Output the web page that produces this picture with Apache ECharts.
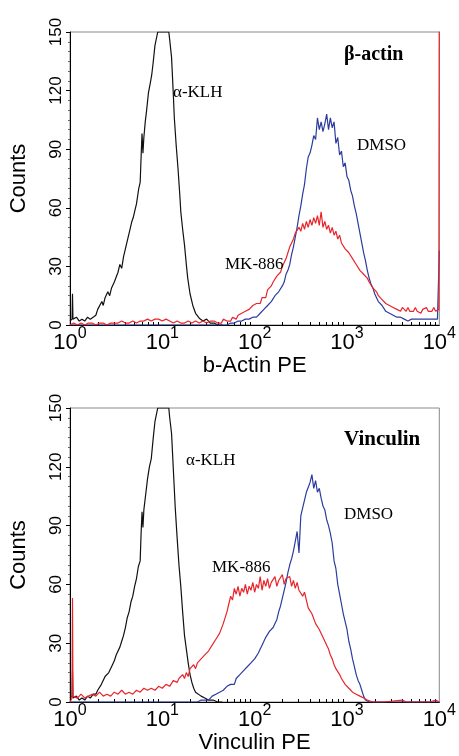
<!DOCTYPE html>
<html><head><meta charset="utf-8">
<script src="https://cdn.jsdelivr.net/npm/echarts@6/dist/echarts.min.js"></script>
<style>html,body{margin:0;padding:0;background:#fff}#c{width:459px;height:756px}</style>
</head><body><div id="c"></div>
<script>
// ---- axis ticks ----
const yTickValues = [0, 30, 60, 90, 120, 150];
const xTickExponents = [0, 1, 2, 3, 4];
const panelTitles = ['β-actin', 'Vinculin'];
const xAxisNames = ['b-Actin PE', 'Vinculin PE'];
const seriesNames = ['α-KLH', 'MK-886', 'DMSO'];

// ---- data: [log10 fluorescence, counts] ----
const actinKLH = [[0,2],[0.022,3],[0.027,16],[0.032,3],[0.05,2],[0.07,4],[0.10,2],[0.13,3],[0.16,2],[0.19,4],[0.22,3],[0.25,4],[0.28,5],[0.30,8],[0.32,7],[0.345,12],[0.36,10],[0.38,14],[0.41,17],[0.43,15],[0.45,19],[0.48,22],[0.50,21],[0.52,27],[0.54,31],[0.56,29],[0.58,35],[0.595,38],[0.61,41],[0.63,45],[0.65,49],[0.67,53],[0.685,55],[0.70,58],[0.72,62],[0.745,70],[0.76,73],[0.77,86],[0.78,98],[0.79,88],[0.80,96],[0.815,104],[0.83,110],[0.85,119],[0.87,124],[0.885,128],[0.90,134],[0.92,143],[0.95,150],[1.07,150],[1.08,146],[1.10,137],[1.12,117],[1.13,106],[1.15,92],[1.17,80],[1.19,66],[1.20,58],[1.22,49],[1.24,41],[1.26,31],[1.275,24],[1.30,16],[1.33,10],[1.36,6],[1.40,3.5],[1.44,2],[1.48,3],[1.52,1],[1.56,1],[1.60,0],[1.65,0]];
const actinMK = [[0,0],[0.04,1],[0.08,0],[0.12,1],[0.16,0],[0.20,1],[0.24,1],[0.28,0],[0.32,1],[0.36,1],[0.40,0],[0.44,1],[0.48,1],[0.52,1],[0.56,2],[0.60,1],[0.64,1],[0.68,2],[0.72,1],[0.76,2],[0.80,2],[0.84,3],[0.88,2],[0.92,3],[0.96,3],[1.00,2],[1.04,3],[1.08,2],[1.12,1],[1.16,2],[1.20,1],[1.24,1],[1.28,2],[1.32,1],[1.36,2],[1.40,1],[1.44,2],[1.48,1],[1.52,2],[1.56,2],[1.60,1],[1.62,2],[1.64,1],[1.66,3],[1.68,2],[1.70,2],[1.72,3],[1.74,2],[1.76,4],[1.78,3],[1.80,3],[1.82,5],[1.84,4],[1.86,6],[1.88,5],[1.90,7],[1.92,6],[1.94,8],[1.96,7],[1.98,10],[2.00,9],[2.02,11],[2.04,12],[2.06,11],[2.08,14],[2.10,15],[2.12,14],[2.14,18],[2.16,17],[2.18,20],[2.20,22],[2.22,21],[2.24,25],[2.26,24],[2.28,27],[2.30,30],[2.32,29],[2.34,34],[2.36,37],[2.38,40],[2.40,42],[2.42,44],[2.44,47],[2.46,46],[2.48,50],[2.50,48],[2.52,52],[2.54,49],[2.56,53],[2.58,50],[2.60,54],[2.62,51],[2.64,55],[2.66,52],[2.68,56],[2.70,51],[2.72,58],[2.74,50],[2.76,53],[2.78,49],[2.80,51],[2.82,47],[2.84,50],[2.86,46],[2.88,48],[2.90,44],[2.92,46],[2.94,42],[2.96,43],[2.98,39],[3.00,40],[3.02,37],[3.04,36],[3.06,34],[3.08,35],[3.10,31],[3.12,31],[3.14,28],[3.16,29],[3.18,26],[3.20,25],[3.22,24],[3.24,22],[3.26,21],[3.28,19],[3.30,18],[3.32,17],[3.34,15],[3.36,15],[3.38,13],[3.40,13],[3.42,11],[3.44,12],[3.46,10],[3.48,11],[3.50,9],[3.52,10],[3.54,8],[3.56,9],[3.58,7],[3.60,9],[3.62,8],[3.64,7],[3.66,9],[3.68,7],[3.70,8],[3.72,7],[3.74,9],[3.76,7],[3.78,8],[3.80,6],[3.82,8],[3.84,7],[3.86,9],[3.88,7],[3.90,8],[3.92,7],[3.94,9],[3.96,7],[3.98,8],[3.995,8],[4.00,160]];
const actinDMSO = [[0,0],[0.1,0],[0.3,0],[0.5,0],[0.7,0],[0.9,0],[1.1,0],[1.3,0],[1.5,0],[1.62,0],[1.64,1],[1.66,0],[1.68,1],[1.70,0],[1.72,1],[1.74,1],[1.76,0],[1.78,1],[1.80,1],[1.82,2],[1.84,1],[1.86,2],[1.88,2],[1.90,3],[1.92,2],[1.94,3],[1.96,3],[1.98,4],[2.00,3],[2.02,4],[2.04,5],[2.06,6],[2.08,7],[2.10,8],[2.12,9],[2.14,10],[2.16,11],[2.18,12],[2.20,13],[2.22,15],[2.24,16],[2.26,17],[2.28,18],[2.30,20],[2.32,22],[2.34,26],[2.36,28],[2.38,31],[2.40,36],[2.42,40],[2.44,45],[2.46,50],[2.48,56],[2.50,61],[2.52,67],[2.54,72],[2.56,80],[2.58,86],[2.60,88],[2.62,92],[2.64,97],[2.66,95],[2.68,106],[2.70,100],[2.72,104],[2.74,99],[2.76,103],[2.78,108],[2.80,100],[2.82,106],[2.84,101],[2.86,104],[2.88,93],[2.90,96],[2.92,87],[2.94,89],[2.96,81],[2.98,83],[3.00,76],[3.02,74],[3.04,69],[3.06,66],[3.08,61],[3.10,57],[3.12,52],[3.14,47],[3.16,42],[3.18,37],[3.20,33],[3.22,28],[3.24,24],[3.26,21],[3.28,19],[3.30,16],[3.32,14],[3.34,12],[3.36,11],[3.38,10],[3.40,9],[3.42,7],[3.44,6],[3.46,6],[3.48,5],[3.50,5],[3.52,4],[3.54,4],[3.56,3],[3.58,4],[3.60,3],[3.62,3],[3.64,4],[3.66,2],[3.68,3],[3.70,3],[3.72,2],[3.74,3],[3.76,2],[3.78,3],[3.80,2],[3.82,3],[3.84,2],[3.86,3],[3.88,2],[3.90,3],[3.92,2],[3.94,3],[3.96,2],[3.98,3],[3.995,2],[4.00,38]];

const vincKLH = [[0,2],[0.022,3],[0.027,16],[0.032,2],[0.05,1],[0.07,3],[0.10,1],[0.13,2],[0.16,1],[0.19,3],[0.22,2],[0.25,4],[0.28,4],[0.30,6],[0.32,5],[0.34,9],[0.36,10],[0.38,13],[0.40,12],[0.42,15],[0.44,14],[0.46,19],[0.48,21],[0.50,24],[0.52,23],[0.54,28],[0.56,31],[0.58,34],[0.60,38],[0.62,43],[0.64,46],[0.66,51],[0.68,54],[0.70,59],[0.72,63],[0.74,69],[0.76,72],[0.77,86],[0.78,97],[0.79,89],[0.80,98],[0.82,106],[0.84,114],[0.86,120],[0.88,124],[0.90,134],[0.92,143],[0.95,150],[1.07,150],[1.08,145],[1.10,137],[1.12,118],[1.14,99],[1.16,84],[1.18,70],[1.20,59],[1.22,46],[1.24,34],[1.26,27],[1.28,20],[1.30,14],[1.32,10],[1.34,7],[1.36,5],[1.38,4],[1.42,3],[1.46,2],[1.50,1],[1.55,1],[1.60,0],[1.65,0]];
const vincMK = [[0,0],[0.022,2],[0.027,53],[0.032,3],[0.04,3],[0.08,2],[0.12,4],[0.16,2],[0.20,3],[0.24,4],[0.28,3],[0.32,5],[0.36,3],[0.40,4],[0.44,3],[0.48,5],[0.52,4],[0.56,6],[0.60,4],[0.64,5],[0.68,4],[0.72,6],[0.76,5],[0.80,7],[0.84,6],[0.88,7],[0.92,6],[0.96,8],[1.00,7],[1.04,9],[1.08,8],[1.12,11],[1.16,10],[1.18,12],[1.20,11],[1.22,14],[1.24,12],[1.26,15],[1.28,13],[1.30,17],[1.32,16],[1.34,19],[1.36,17],[1.38,20],[1.40,19],[1.42,22],[1.44,21],[1.46,24],[1.48,23],[1.50,26],[1.52,25],[1.54,29],[1.56,28],[1.58,32],[1.60,31],[1.62,35],[1.64,36],[1.66,40],[1.68,39],[1.70,46],[1.72,50],[1.74,54],[1.76,52],[1.78,58],[1.80,55],[1.82,59],[1.84,54],[1.86,58],[1.88,56],[1.90,60],[1.92,55],[1.94,59],[1.96,57],[1.98,61],[2.00,56],[2.02,60],[2.04,58],[2.06,64],[2.08,57],[2.10,62],[2.12,59],[2.14,63],[2.16,58],[2.18,61],[2.20,60],[2.22,64],[2.24,59],[2.26,62],[2.28,61],[2.30,65],[2.32,60],[2.34,63],[2.36,62],[2.38,64],[2.40,59],[2.42,62],[2.44,58],[2.46,61],[2.48,57],[2.50,58],[2.52,54],[2.54,56],[2.56,52],[2.58,48],[2.60,49],[2.62,45],[2.64,44],[2.66,40],[2.68,39],[2.70,37],[2.72,35],[2.74,33],[2.76,31],[2.78,29],[2.80,27],[2.82,24],[2.84,22],[2.86,19],[2.88,17],[2.90,16],[2.92,14],[2.94,12],[2.96,11],[2.98,9],[3.00,8],[3.02,7],[3.04,6],[3.06,5],[3.08,4],[3.10,4],[3.12,3],[3.14,3],[3.16,2],[3.18,2],[3.20,2],[3.22,1],[3.24,1],[3.28,0],[3.40,0],[3.60,1],[3.64,0],[3.90,0],[3.96,1],[4.00,0]];
const vincDMSO = [[0,0],[0.2,0],[0.4,0],[0.6,0],[0.8,0],[1.0,0],[1.2,0],[1.30,0],[1.32,1],[1.34,0],[1.36,1],[1.38,0],[1.40,1],[1.42,1],[1.44,0],[1.46,1],[1.48,2],[1.50,1],[1.52,2],[1.54,3],[1.56,2],[1.58,4],[1.60,3],[1.62,5],[1.64,4],[1.66,6],[1.68,5],[1.70,8],[1.72,7],[1.74,9],[1.76,10],[1.78,9],[1.80,12],[1.82,11],[1.84,14],[1.86,13],[1.88,16],[1.90,15],[1.92,18],[1.94,17],[1.96,20],[1.98,19],[2.00,22],[2.02,21],[2.04,25],[2.06,27],[2.08,29],[2.10,31],[2.12,33],[2.14,32],[2.16,36],[2.18,35],[2.20,38],[2.22,40],[2.24,42],[2.26,46],[2.28,49],[2.30,53],[2.32,57],[2.34,61],[2.36,66],[2.38,70],[2.40,73],[2.42,77],[2.44,82],[2.46,87],[2.48,76],[2.50,95],[2.52,99],[2.54,103],[2.56,107],[2.58,106],[2.60,112],[2.62,116],[2.64,109],[2.66,113],[2.68,107],[2.70,109],[2.72,104],[2.74,100],[2.76,98],[2.78,93],[2.80,90],[2.82,86],[2.84,81],[2.86,72],[2.88,68],[2.90,60],[2.92,55],[2.94,50],[2.96,45],[2.98,41],[3.00,37],[3.02,31],[3.04,27],[3.06,22],[3.08,18],[3.10,14],[3.12,11],[3.14,9],[3.16,6],[3.18,3],[3.20,1],[3.22,1],[3.24,0],[3.50,0],[3.80,0],[4.00,0]];

const SANS = '"Liberation Sans", Arial, sans-serif';
const SERIF = '"Liberation Serif", "Times New Roman", serif';
const COLORS = {klh: '#111111', mk: '#e8252b', dmso: '#2c3c9e'};

function toData(pairs) { return pairs.map(p => [Math.pow(10, p[0]), p[1]]); }

const grids = [
  {left: 68, top: 32, width: 372, height: 293},
  {left: 68, top: 408, width: 372, height: 294}
];

function xAxis(i) {
  return {
    gridIndex: i, type: 'log', logBase: 10,
    min: Math.pow(10, xTickExponents[0]), max: Math.pow(10, xTickExponents[xTickExponents.length - 1]),
    name: xAxisNames[i], nameLocation: 'middle', nameGap: 27,
    nameTextStyle: {fontFamily: SANS, fontSize: 22, color: '#000'},
    axisLine: {show: true, lineStyle: {color: '#000', width: 1}},
    axisTick: {show: false, inside: true},
    minorTick: {show: true, splitNumber: 9, length: 3, lineStyle: {color: '#000'}},
    splitLine: {show: false}, minorSplitLine: {show: false},
    axisLabel: {
      margin: 7, color: '#000',
      formatter: function (v) { return '{b|10}{s|' + Math.round(Math.log(v) / Math.LN10) + '}'; },
      rich: {
        b: {fontFamily: SANS, fontSize: 22, lineHeight: 22, color: '#000', verticalAlign: 'bottom'},
        s: {fontFamily: SANS, fontSize: 16, lineHeight: 16, color: '#000', verticalAlign: 'bottom', padding: [0, 0, 12, 0]}
      }
    }
  };
}
function yAxis(i) {
  return {
    gridIndex: i, type: 'value', min: yTickValues[0], max: yTickValues[yTickValues.length - 1],
    interval: yTickValues[1] - yTickValues[0],
    name: 'Counts', nameLocation: 'middle', nameGap: 40, nameRotate: 90,
    nameTextStyle: {fontFamily: SANS, fontSize: 22, color: '#000'},
    axisLine: {show: true, lineStyle: {color: '#000', width: 1}},
    axisTick: {show: true, length: 4, lineStyle: {color: '#000'}},
    minorTick: {show: true, splitNumber: 6, length: 2, lineStyle: {color: '#666'}},
    splitLine: {show: false},
    axisLabel: {rotate: 90, margin: 5, fontFamily: SANS, fontSize: 17, color: '#000'}
  };
}
function line(i, name, pairs, color) {
  return {
    type: 'line', name: name, xAxisIndex: i, yAxisIndex: i, data: toData(pairs),
    showSymbol: false, symbol: 'none', clip: true, animation: false,
    lineStyle: {color: color, width: 1.2}, itemStyle: {color: color}
  };
}
function label(text, x, y, font) {
  return {type: 'text', x: x, y: y, z: 100,
    style: {text: text, font: font, fill: '#000', verticalAlign: 'middle', align: 'left'}};
}

const option = {
  backgroundColor: '#fff',
  animation: false,
  grid: grids.map(g => Object.assign({show: true, borderColor: '#8a8a8a', borderWidth: 1, backgroundColor: 'transparent'}, g)),
  xAxis: [xAxis(0), xAxis(1)],
  yAxis: [yAxis(0), yAxis(1)],
  series: [
    line(0, seriesNames[0], actinKLH, COLORS.klh),
    line(0, seriesNames[2], actinDMSO, COLORS.dmso),
    line(0, seriesNames[1], actinMK, COLORS.mk),
    line(1, seriesNames[0], vincKLH, COLORS.klh),
    line(1, seriesNames[2], vincDMSO, COLORS.dmso),
    line(1, seriesNames[1], vincMK, COLORS.mk)
  ],
  graphic: [
    label(seriesNames[0], 173, 93, '17px ' + SERIF),
    label(panelTitles[0], 344, 55, 'bold 20px ' + SERIF),
    label(seriesNames[2], 357, 146, '17px ' + SERIF),
    label(seriesNames[1], 225, 265, '17px ' + SERIF),
    label(seriesNames[0], 186, 461, '17px ' + SERIF),
    label(panelTitles[1], 344, 440, 'bold 21px ' + SERIF),
    label(seriesNames[2], 344, 515, '17px ' + SERIF),
    label(seriesNames[1], 212, 568, '17px ' + SERIF)
  ]
};
const chart = echarts.init(document.getElementById('c'), null, {renderer: 'canvas'});
chart.setOption(option);
</script></body></html>
